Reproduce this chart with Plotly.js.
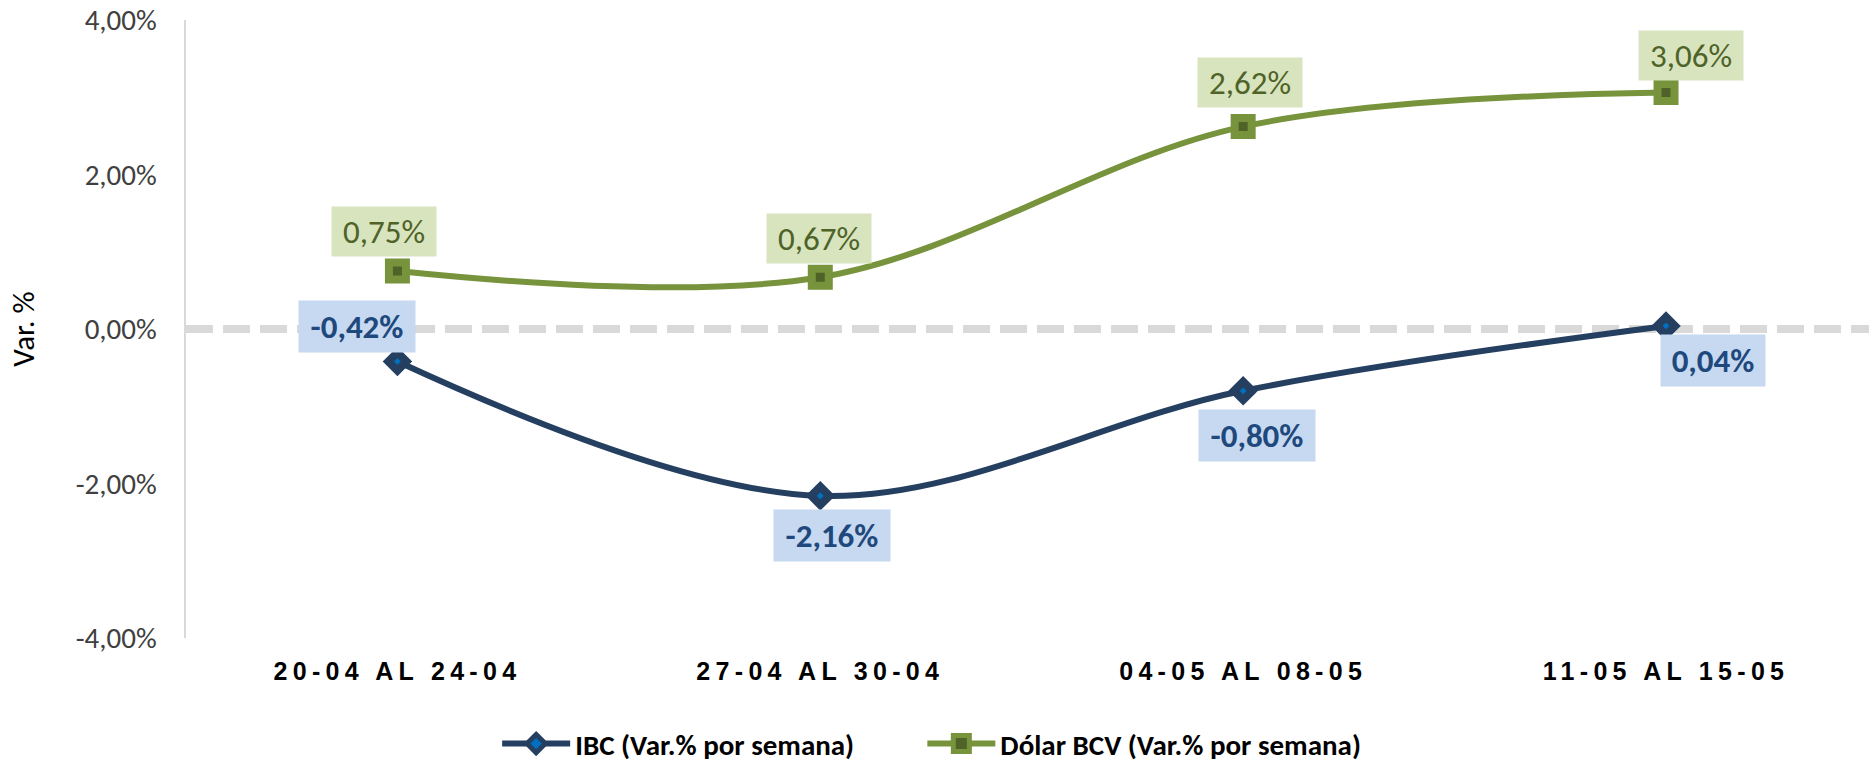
<!DOCTYPE html>
<html>
<head>
<meta charset="utf-8">
<script src="https://cdn.plot.ly/plotly-3.0.1.min.js"></script>
<style>
  html, body { margin: 0; padding: 0; background: #fff; }
  #chart { width: 1869px; height: 762px; }
  .xtick text { letter-spacing: 5.3px; }
</style>
</head>
<body>
<div id="chart"></div>
<script>
var semanas = ['20-04 AL 24-04', '27-04 AL 30-04', '04-05 AL 08-05', '11-05 AL 15-05'];
var ibc = [-0.42, -2.16, -0.80, 0.04];
var dolar = [0.75, 0.67, 2.62, 3.06];
var yTicks = [-4, -2, 0, 2, 4];

// where each label box sits relative to its point, in px (x right, y up)
var ibcShift = [[-40, 35], [12, -40], [14, -45], [47, -35]];
var dolarShift = [[-13, 40], [-1, 39], [7, 44], [25, 37]];

var navy = '#243F60';
var green = '#77933C';
var baseFont = "Carlito, Calibri, 'Open Sans', sans-serif";

function pct(v) {
    return v.toFixed(2).replace('.', ',') + '%';
}

var trace1 = {
    type: 'scatter',
    mode: 'lines+markers',
    name: 'IBC (Var.% por semana)',
    x: semanas,
    y: ibc,
    line: {color: navy, width: 6, shape: 'spline', smoothing: 1},
    marker: {symbol: 'diamond', size: 14, color: '#0070C0', line: {color: navy, width: 8}},
    hoverinfo: 'skip',
    legend: 'legend'
};
var trace2 = {
    type: 'scatter',
    mode: 'lines+markers',
    name: 'Dólar BCV (Var.% por semana)',
    x: semanas,
    y: dolar,
    line: {color: green, width: 6, shape: 'spline', smoothing: 1},
    marker: {symbol: 'square', size: 17, color: '#4F6228', line: {color: green, width: 8}},
    hoverinfo: 'skip',
    legend: 'legend2'
};

var annotations = [];
ibc.forEach(function (v, i) {
    annotations.push({
        x: semanas[i], y: v, xref: 'x', yref: 'y',
        text: '<b>' + pct(v) + '</b>',
        showarrow: false,
        xshift: ibcShift[i][0], yshift: ibcShift[i][1],
        width: v < 0 ? 114 : 102, height: 49,
        bgcolor: '#C6D9F1',
        font: {family: baseFont, size: 33, color: '#1F497D'}
    });
});
dolar.forEach(function (v, i) {
    annotations.push({
        x: semanas[i], y: v, xref: 'x', yref: 'y',
        text: pct(v),
        showarrow: false,
        xshift: dolarShift[i][0], yshift: dolarShift[i][1],
        width: 102, height: 47,
        bgcolor: '#D7E4BD',
        font: {family: baseFont, size: 33, color: '#4F6228'}
    });
});

function legendAt(x) {
    return {
        orientation: 'h',
        xref: 'container', yref: 'container',
        x: x, xanchor: 'left',
        y: 0.024, yanchor: 'middle',
        font: {family: baseFont, size: 29, color: '#000', weight: 'bold'},
        itemwidth: 68
    };
}

var layout = {
    width: 1869,
    height: 762,
    margin: {l: 186, r: 0, t: 20, b: 124},
    paper_bgcolor: '#fff',
    plot_bgcolor: '#fff',
    showlegend: true,
    legend: legendAt(0.266),
    legend2: legendAt(0.4935),
    xaxis: {
        type: 'category',
        range: [-0.5, 3.48],
        showgrid: false,
        zeroline: false,
        showline: false,
        ticks: '',
        ticklabelstandoff: 16,
        tickfont: {family: "'Liberation Sans', Arial, sans-serif", size: 25, color: '#000', weight: 'bold'}
    },
    yaxis: {
        range: [-4, 4],
        tickvals: yTicks,
        ticktext: yTicks.map(pct),
        showgrid: false,
        zeroline: false,
        showline: true,
        linecolor: '#D9D9D9',
        linewidth: 2.5,
        ticks: '',
        ticklabelstandoff: 21,
        tickfont: {family: baseFont, size: 29, color: '#404040'},
        title: {text: 'Var. %', standoff: 32, font: {family: baseFont, size: 31, color: '#000'}}
    },
    shapes: [{
        type: 'line', layer: 'below',
        xref: 'paper', x0: 0, x1: 1,
        yref: 'y', y0: 0, y1: 0,
        line: {color: '#D9D9D9', width: 8, dash: '27px,10px'}
    }],
    annotations: annotations
};

Plotly.newPlot('chart', [trace1, trace2], layout, {staticPlot: true, displayModeBar: false});
</script>
</body>
</html>
